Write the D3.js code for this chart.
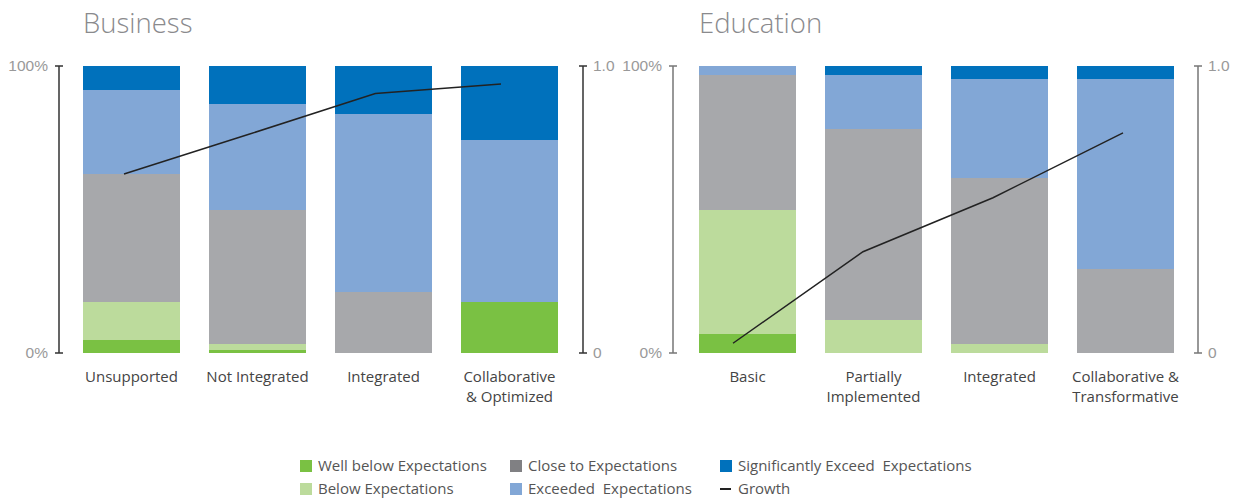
<!DOCTYPE html>
<html>
<head>
<meta charset="utf-8">
<script src="https://cdn.jsdelivr.net/npm/d3@7"></script>
<style>
  body { margin: 0; background: #fff; }
  svg { font-family: "Open Sans", "Noto Sans", sans-serif; }
</style>
</head>
<body>
<div id="chart"></div>
<script>
//series names and colours
let seriesNames = ["Well below Expectations", "Below Expectations", "Close to Expectations",
                   "Exceeded  Expectations", "Significantly Exceed  Expectations"];
let seriesColors = ["#7AC143", "#BCDB9C", "#A7A8AB", "#82A7D6", "#0071BC"];
let legendColors = ["#7AC143", "#BCDB9C", "#808083", "#82A7D6", "#0071BC"];

//business panel
let businessCats = ["Unsupported", "Not Integrated", "Integrated", "Collaborative\n& Optimized"];
let businessWellBelow = [4.5, 1.0, 0, 17.8];
let businessBelow     = [13.3, 2.1, 0, 0];
let businessClose     = [44.6, 46.7, 21.4, 0];
let businessExceeded  = [29.2, 37.0, 61.9, 56.4];
let businessSignif    = [8.4, 13.2, 16.7, 25.8];
let businessGrowth    = [0.624, 0.763, 0.904, 0.937];

//education panel
let educationCats = ["Basic", "Partially\nImplemented", "Integrated", "Collaborative &\nTransformative"];
let educationWellBelow = [6.6, 0, 0, 0];
let educationBelow     = [43.2, 11.5, 3.1, 0];
let educationClose     = [47.1, 66.5, 58.0, 29.3];
let educationExceeded  = [3.1, 18.9, 34.4, 66.2];
let educationSignif    = [0, 3.1, 4.5, 4.5];
let educationGrowth    = [0.034, 0.353, 0.541, 0.767];

let leftTicks = [0, 100];
let rightTicks = [0, 1];

let width = 1249, height = 499;
let plotTop = 66, plotBottom = 353;

let svg = d3.select("#chart").append("svg")
    .attr("width", width)
    .attr("height", height);

function drawPanel(opt) {
    let rows = opt.cats.map((c, i) => {
        let r = {cat: c};
        opt.series.forEach((s, k) => r[seriesNames[k]] = s[i]);
        return r;
    });
    let stacked = d3.stack().keys(seriesNames)(rows);

    let x = d3.scaleBand()
        .domain(opt.cats)
        .range([opt.x0, opt.x1])
        .paddingInner(0.23)
        .paddingOuter(0);
    let y = d3.scaleLinear().domain([0, 100]).range([plotBottom, plotTop]);
    let y2 = d3.scaleLinear().domain([0, 1]).range([plotBottom, plotTop]);
    let xl = d3.scalePoint().domain(opt.cats).range(opt.lineRange);

    let g = svg.append("g");

    //title
    g.append("text")
        .attr("x", opt.x0)
        .attr("y", 33)
        .attr("font-size", 27.5)
        .attr("font-weight", 300)
        .attr("fill", "#8a8a8d")
        .text(opt.title);

    //bars
    g.selectAll("g.layer")
        .data(stacked)
        .enter().append("g")
        .attr("fill", (d, i) => seriesColors[i])
        .selectAll("rect")
        .data(d => d)
        .enter().append("rect")
        .attr("shape-rendering", "crispEdges")
        .attr("x", d => x(d.data.cat))
        .attr("width", x.bandwidth())
        .attr("y", d => y(d[1]))
        .attr("height", d => y(d[0]) - y(d[1]));

    //left axis
    let la = g.append("g")
        .attr("transform", `translate(${opt.axisL},0)`)
        .call(d3.axisLeft(y).tickValues(leftTicks).tickSize(4).tickFormat(d => d + "%"));
    la.select(".domain").attr("d", `M-4,${plotTop}H4M0,${plotTop}V${plotBottom}M-4,${plotBottom}H4`)
        .attr("stroke", opt.axisColor).attr("stroke-width", 1.5);
    la.selectAll(".tick line").remove();
    la.selectAll(".tick text").attr("x", -11).attr("fill", "#999")
        .attr("font-size", 15.5).attr("font-family", "inherit");

    //right axis
    let ra = g.append("g")
        .attr("transform", `translate(${opt.axisR},0)`)
        .call(d3.axisRight(y2).tickValues(rightTicks).tickSize(4).tickFormat(d => d === 0 ? "0" : "1.0"));
    ra.select(".domain").attr("d", `M-4,${plotTop}H4M0,${plotTop}V${plotBottom}M-4,${plotBottom}H4`)
        .attr("stroke", opt.axisColor).attr("stroke-width", 1.5);
    ra.selectAll(".tick line").remove();
    ra.selectAll(".tick text").attr("x", 10).attr("fill", "#999")
        .attr("font-size", 15.5).attr("font-family", "inherit");

    //category labels
    opt.cats.forEach(c => {
        let t = g.append("text")
            .attr("text-anchor", "middle")
            .attr("font-size", 15)
            .attr("fill", "#444");
        c.split("\n").forEach((line, i) => {
            t.append("tspan")
                .attr("x", x(c) + x.bandwidth() / 2)
                .attr("y", 382 + i * 20)
                .text(line);
        });
    });

    //growth line
    let line = d3.line()
        .x((d, i) => xl(opt.cats[i]))
        .y(d => y2(d));
    g.append("path")
        .datum(opt.growth)
        .attr("d", line)
        .attr("fill", "none")
        .attr("stroke", "#222")
        .attr("stroke-width", 1.5);
}

drawPanel({
    title: "Business",
    cats: businessCats,
    series: [businessWellBelow, businessBelow, businessClose, businessExceeded, businessSignif],
    growth: businessGrowth,
    x0: 83, x1: 558,
    axisL: 59, axisR: 583,
    axisColor: "#333",
    lineRange: [124, 501]
});

drawPanel({
    title: "Education",
    cats: educationCats,
    series: [educationWellBelow, educationBelow, educationClose, educationExceeded, educationSignif],
    growth: educationGrowth,
    x0: 699, x1: 1174,
    axisL: 673, axisR: 1198,
    axisColor: "#777",
    lineRange: [733, 1123]
});

//legend
let legendItems = [
    {name: seriesNames[0], color: legendColors[0], col: 0, row: 0},
    {name: seriesNames[1], color: legendColors[1], col: 0, row: 1},
    {name: seriesNames[2], color: legendColors[2], col: 1, row: 0},
    {name: seriesNames[3], color: legendColors[3], col: 1, row: 1},
    {name: seriesNames[4], color: legendColors[4], col: 2, row: 0},
    {name: "Growth", color: "#222", col: 2, row: 1, line: true}
];
let legend = svg.append("g");
let lg = legend.selectAll("g")
    .data(legendItems)
    .enter().append("g")
    .attr("transform", d => `translate(${300 + d.col * 210},${466 + d.row * 23})`);
lg.filter(d => !d.line).append("rect")
    .attr("x", 0).attr("y", -6)
    .attr("width", 12).attr("height", 12)
    .attr("fill", d => d.color);
lg.filter(d => d.line).append("line")
    .attr("x1", 0).attr("x2", 11)
    .attr("stroke", d => d.color)
    .attr("stroke-width", 2);
lg.append("text")
    .attr("x", 18)
    .attr("dy", "0.35em")
    .attr("font-size", 15)
    .attr("fill", "#555")
    .style("white-space", "pre")
    .text(d => d.name);
</script>
</body>
</html>
